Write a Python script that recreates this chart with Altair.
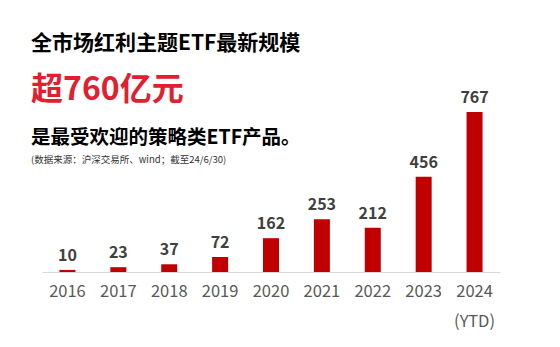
import altair as alt
import pandas as pd

years = ["2016", "2017", "2018", "2019", "2020", "2021", "2022", "2023", "2024"]
values = [10, 23, 37, 72, 162, 253, 212, 456, 767]

title1 = "全市场红利主题ETF最新规模"
title2 = "超760亿元"
title3 = "是最受欢迎的策略类ETF产品。"
source = "(数据来源：沪深交易所、wind；截至24/6/30)"

df = pd.DataFrame({"year": years, "value": values})
FONT = "Noto Sans CJK SC"

base = alt.Chart(df)

xenc = alt.X(
    "year:N",
    sort=years,
    scale=alt.Scale(paddingInner=0.686, paddingOuter=0.343),
    axis=alt.Axis(
        title=None,
        labelAngle=0,
        ticks=False,
        grid=False,
        domainColor="#d9d9d9",
        domainWidth=1,
        labelFont=FONT,
        labelFontWeight="normal",
        labelFontSize=16.5,
        labelColor="#595959",
        labelPadding=11,
        labelLineHeight=30,
        labelExpr="datum.value == '2024' ? ['2024', '(YTD)'] : datum.label",
    ),
)
yenc = alt.Y("value:Q", scale=alt.Scale(domain=[0, 800]), axis=None)

bars = base.mark_bar(color="#c00000", size=16).encode(x=xenc, y=yenc)
labels = base.mark_text(
    font=FONT, fontWeight="bold", fontSize=16, color="#404040",
    baseline="bottom", dy=-6, clip=False,
).encode(x=alt.X("year:N", sort=years), y=yenc, text="value:Q")


def txt(s, x, y, size, color, weight="bold"):
    return alt.Chart(pd.DataFrame({"t": [s]})).mark_text(
        font=FONT, fontSize=size, fontWeight=weight, color=color,
        align="left", baseline="middle",
    ).encode(text="t:N", x=alt.value(x), y=alt.value(y))


t1 = txt(title1, -11, -61, 21, "#000000")
t2 = txt(title2, -11, -15, 32, "#e0202f")
t3 = txt(title3, -11, 33, 19.5, "#000000")
t4 = txt(source, -11, 55, 9.5, "#333333", "normal")

chart = alt.layer(bars, labels, t1, t2, t3, t4).properties(
    width=458,
    height=167,
    autosize=alt.AutoSizeParams(type="none"),
    padding={"left": 42, "top": 105, "right": 60, "bottom": 75},
    background="#ffffff",
).configure_view(stroke=None)

chart.save("out.html", embed_options={"renderer": "svg", "actions": False})
